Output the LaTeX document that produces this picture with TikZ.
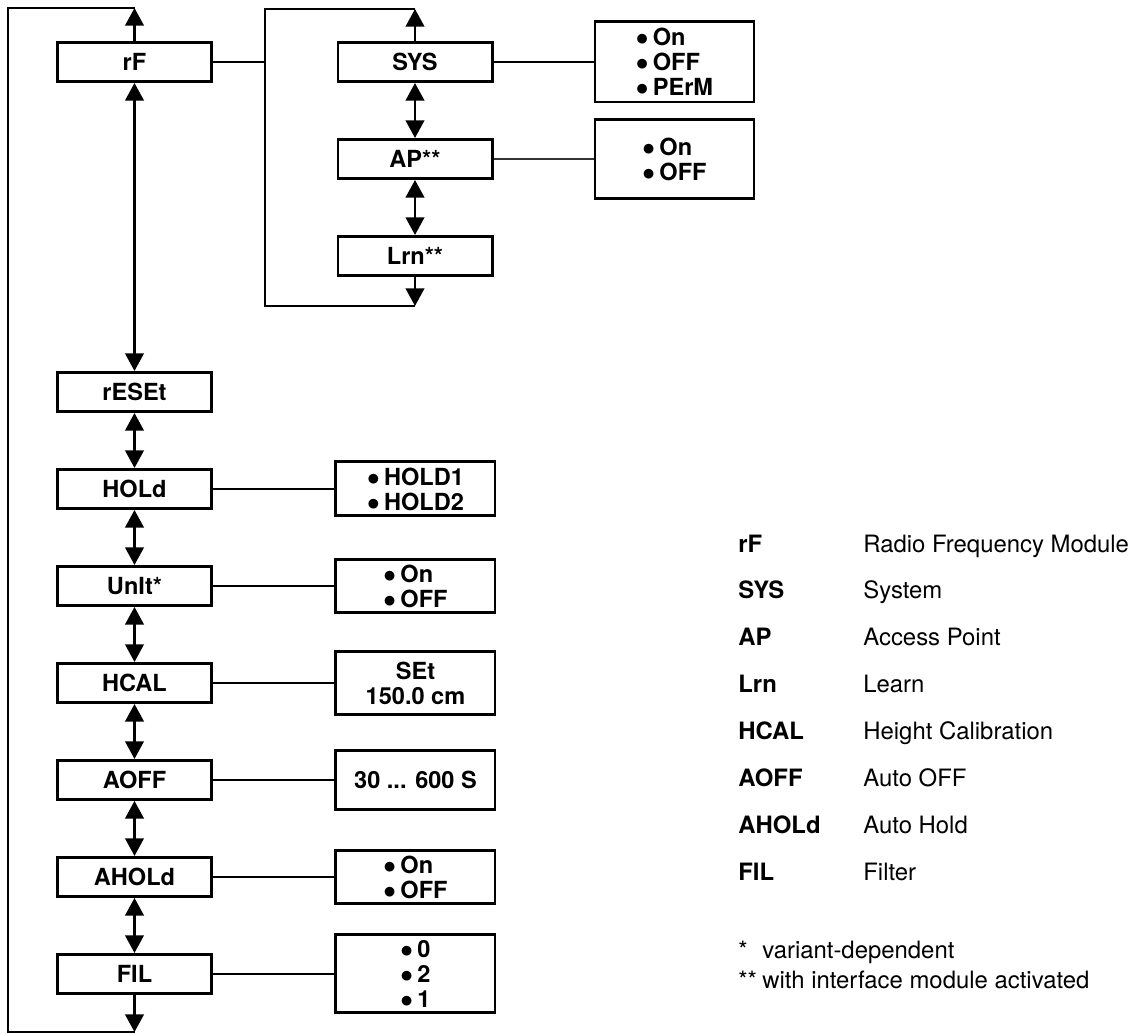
\documentclass[tikz,border=0pt]{standalone}
\usepackage{fontspec}
\setmainfont{TeX Gyre Heros}
\usetikzlibrary{arrows.meta,positioning}
\newcommand{\optbullet}{$\bullet$\kern2.5pt}

\begin{document}
\begin{tikzpicture}[
  node distance=1.10cm and 2.43cm,
  menu/.style={draw, line width=1.7pt, minimum width=3.08cm, minimum height=0.78cm, inner sep=0pt, font=\fontsize{13.4}{14.2}\selectfont\bfseries},
  opts/.style={draw, line width=1.7pt, minimum width=3.18cm, inner sep=0pt, align=left, font=\fontsize{13.4}{14.2}\selectfont\bfseries},
  link/.style={line width=1.4pt},
  arrow/.style={-{Triangle[length=10pt,width=10.5pt]}, line width=1.4pt},
  dblarrow/.style={{Triangle[length=10pt,width=10.5pt]}-{Triangle[length=10pt,width=10.5pt]}, line width=1.4pt},
  abbr/.style={anchor=base west, inner sep=0pt, font=\fontsize{13.6}{16}\selectfont\bfseries},
  desc/.style={anchor=base west, inner sep=0pt, font=\fontsize{13.6}{16}\selectfont}
]
\useasboundingbox (0,0) rectangle (22.72,-20.68);

% main menu
\node[menu] (rF) at (2.69,-1.24) {rF};
\node[menu] (rESEt) at (2.69,-7.84) {rESEt};
\node[menu, below=of rESEt] (HOLd) {HOLd};
\node[menu, below=of HOLd] (UnIt) {UnIt*};
\node[menu, below=of UnIt] (HCAL) {HCAL};
\node[menu, below=of HCAL] (AOFF) {AOFF};
\node[menu, below=of AOFF] (AHOLd) {AHOLd};
\node[menu, below=of AHOLd] (FIL) {FIL};

% rF sub menu
\node[menu] (SYS) at (8.30,-1.24) {SYS};
\node[menu, below=of SYS] (AP) {AP**};
\node[menu, below=of AP] (Lrn) {Lrn**};

% settings
\node[opts, minimum height=1.6cm, right=2.0cm of SYS] (SYSopt) {\optbullet On\\\optbullet OFF\\\optbullet PErM};
\node[opts, minimum height=1.58cm, right=2.0cm of AP] (APopt) {\optbullet On\\\optbullet OFF};
\node[opts, minimum height=1.08cm, right=of HOLd] (HOLdopt) {\optbullet HOLD1\\\optbullet HOLD2};
\node[opts, minimum height=1.06cm, right=of UnIt] (UnItopt) {\optbullet On\\\optbullet OFF};
\node[opts, minimum height=1.26cm, right=of HCAL, align=center] (HCALopt) {SEt\\150.0 cm};
\node[opts, minimum height=1.18cm, right=of AOFF] (AOFFopt) {30 ... 600 S};
\node[opts, minimum height=1.06cm, right=of AHOLd] (AHOLdopt) {\optbullet On\\\optbullet OFF};
\node[opts, minimum height=1.56cm, right=of FIL] (FILopt) {\optbullet 0\\\optbullet 2\\\optbullet 1};

% loops
\coordinate (outtop) at (0.16,-0.16);
\coordinate (outbot) at (0.16,-20.64);
\coordinate (subtop) at (5.30,-0.18);
\coordinate (subbot) at (5.30,-6.12);

\draw[arrow] (rF.north) -- (rF.north |- outtop);
\draw[arrow] (FIL.south) -- (FIL.south |- outbot);
\draw[link] (rF.north |- outtop) -- (outtop) -- (outbot) -- (FIL.south |- outbot);

\draw[link] (rF.east) -- (rF.east -| subtop);
\draw[arrow] (SYS.north) -- (SYS.north |- subtop);
\draw[arrow] (Lrn.south) -- (Lrn.south |- subbot);
\draw[link] (SYS.north |- subtop) -- (subtop) -- (subbot) -- (Lrn.south |- subbot);

% up / down
\draw[dblarrow] (rF.south) -- (rESEt.north);
\foreach \a/\b in {SYS/AP, AP/Lrn, rESEt/HOLd, HOLd/UnIt, UnIt/HCAL, HCAL/AOFF, AOFF/AHOLd, AHOLd/FIL}
  \draw[dblarrow] (\a.south) -- (\b.north);

% to settings
\foreach \a in {SYS, HOLd, UnIt, HCAL, AOFF, AHOLd, FIL}
  \draw[link] (\a) -- (\a opt);
\draw[line width=0.9pt, black!80] (AP) -- (APopt);

% legend
\foreach \ab/\de [count=\i] in {rF/Radio Frequency Module, SYS/System, AP/Access Point, Lrn/Learn, HCAL/Height Calibration, AOFF/Auto OFF, AHOLd/Auto Hold, FIL/Filter} {
  \node[abbr] (ab\i) at (14.76,{-11.04-0.938*(\i-1)}) {\ab};
  \node[desc] (de\i) at (17.26,{-11.04-0.938*(\i-1)}) {\de};
}
\node[desc] (note1) at (14.76,-19.16) {\makebox[1em][l]{*}variant-dependent};
\node[desc] (note2) at (14.76,-19.76) {\makebox[1em][l]{**}with interface module activated};
\end{tikzpicture}
\end{document}
